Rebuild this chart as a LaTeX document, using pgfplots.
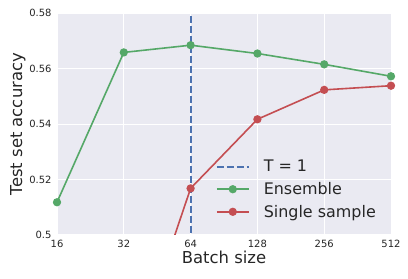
\documentclass[border=0pt]{standalone}
\usepackage{pgfplots}
\pgfplotsset{compat=1.18}
\usepackage{fontspec}
\setmainfont{DejaVu Sans}
\definecolor{sbbg}{HTML}{EAEAF2}
\definecolor{sbblue}{HTML}{4C72B0}
\definecolor{sbgreen}{HTML}{55A868}
\definecolor{sbred}{HTML}{C44E52}
\definecolor{sbtext}{HTML}{262626}
\begin{document}
\begin{tikzpicture}[x=1bp,y=1bp]
\path[use as bounding box] (-57,-44) rectangle (351,235);
\begin{axis}[
  at={(0,0)}, anchor=south west,
  scale only axis, width=334bp, height=222bp,
  xmode=log, log basis x=2,
  xmin=16, xmax=512, ymin=0.5, ymax=0.58,
  xtick={16,32,64,128,256,512},
  xticklabels={16,32,64,128,256,512},
  ytick={0.5,0.52,0.54,0.56,0.58},
  yticklabels={0.5,0.52,0.54,0.56,0.58},
  axis background/.style={fill=sbbg},
  axis line style={draw=none},
  major tick length=0pt,
  grid=major,
  major grid style={white, line width=1bp},
  tick label style={font=\fontsize{10}{12}\selectfont, text=sbtext},
  xticklabel style={yshift=-2bp},
  yticklabel style={xshift=-2bp},
  xlabel={Batch size}, ylabel={Test set accuracy},
  label style={font=\fontsize{16.5}{19}\selectfont, text=sbtext},
  xlabel style={yshift=4bp},
  ylabel style={yshift=-3bp},
  clip=true,
  legend style={draw=none, fill=none, at={(0.97,0.055)}, anchor=south east,
    font=\fontsize{16}{19}\selectfont, text=sbtext, row sep=5bp, column sep=12bp,
    legend cell align=left},
  legend image code/.code={\draw[#1] (0bp,0bp) -- (32bp,0bp); \draw[#1, mark repeat=1] plot coordinates {(16bp,0bp)};},
]
\addplot[sbblue, line width=2bp, dash pattern=on 7bp off 3bp, mark=none] coordinates {(64,0.49) (64,0.59)};
\addlegendentry{T = 1}
\addplot[sbgreen, line width=1.6bp, mark=*, mark size=3.3bp, mark options={solid, fill=sbgreen, draw=sbgreen}] coordinates {
(16,0.5118) (32,0.5658) (64,0.5684) (128,0.5654) (256,0.5615) (512,0.5572)};
\addlegendentry{Ensemble}
\addplot[sbred, line width=1.6bp, mark=*, mark size=3.3bp, mark options={solid, fill=sbred, draw=sbred}] coordinates {
(32,0.4456) (64,0.5168) (128,0.5417) (256,0.5523) (512,0.5538)};
\addlegendentry{Single sample}
\end{axis}
\end{tikzpicture}
\end{document}
